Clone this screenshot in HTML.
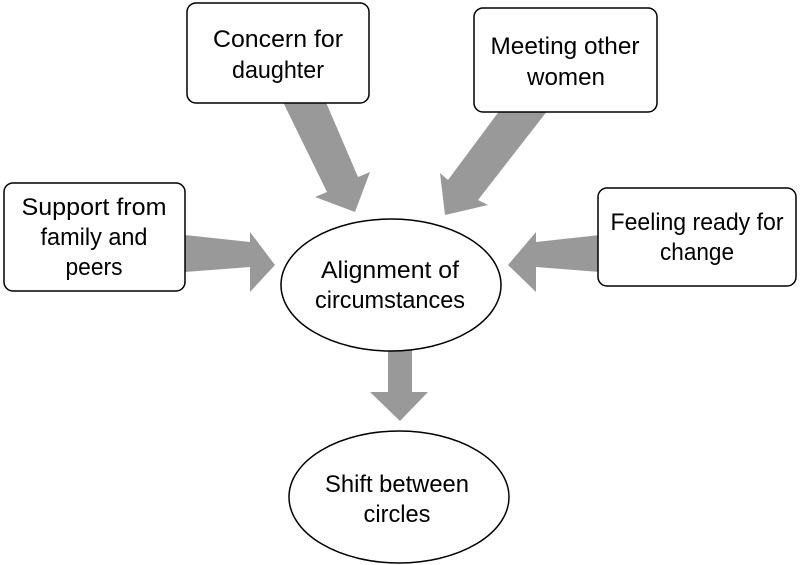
<!DOCTYPE html>
<html><head><meta charset="utf-8"><style>
html,body{margin:0;padding:0;background:#fff;}
svg{display:block;}
text{font-family:"Liberation Sans",sans-serif;font-size:24px;fill:#000;text-anchor:middle;}
</style></head><body>
<svg width="800" height="565" viewBox="0 0 800 565" xmlns="http://www.w3.org/2000/svg">
<g fill="#999">
<polygon points="282,100 325,100 358,177 370,172 355,212 315,197 327,192"/>
<polygon points="500,110 548,110 478,200 488,205 445,215 440,173 448,180"/>
<polygon points="185,235 250,242 250,232 275,265 250,292 250,267 185,272"/>
<polygon points="600,235 536,242 536,232 508,265 536,292 536,267 600,272"/>
<polygon points="388,350 412,350 412,392 428,392 400,421 370,392 388,392"/>
</g>
<g fill="#fff" stroke="#000" stroke-width="1.5">
<rect x="187" y="3" width="182" height="100" rx="9"/>
<rect x="474" y="8" width="183" height="104" rx="9"/>
<rect x="4" y="183" width="181" height="108" rx="9"/>
<rect x="598" y="188" width="198" height="98" rx="9"/>
<ellipse cx="391" cy="285" rx="110" ry="66"/>
<ellipse cx="399" cy="497" rx="110" ry="66"/>
</g>
<text x="278" y="47" textLength="130" lengthAdjust="spacingAndGlyphs">Concern for</text>
<text x="278" y="78" textLength="92" lengthAdjust="spacingAndGlyphs">daughter</text>
<text x="565" y="54" textLength="149" lengthAdjust="spacingAndGlyphs">Meeting other</text>
<text x="566" y="85" textLength="78" lengthAdjust="spacingAndGlyphs">women</text>
<text x="94" y="215" textLength="145" lengthAdjust="spacingAndGlyphs">Support from</text>
<text x="94" y="245" textLength="107" lengthAdjust="spacingAndGlyphs">family and</text>
<text x="94" y="275" textLength="57" lengthAdjust="spacingAndGlyphs">peers</text>
<text x="697" y="230" textLength="173" lengthAdjust="spacingAndGlyphs">Feeling ready for</text>
<text x="697" y="260" textLength="74" lengthAdjust="spacingAndGlyphs">change</text>
<text x="390" y="278" textLength="138" lengthAdjust="spacingAndGlyphs">Alignment of</text>
<text x="390" y="308" textLength="150" lengthAdjust="spacingAndGlyphs">circumstances</text>
<text x="397" y="492" textLength="144" lengthAdjust="spacingAndGlyphs">Shift between</text>
<text x="397" y="522" textLength="67" lengthAdjust="spacingAndGlyphs">circles</text>
</svg>
</body></html>
